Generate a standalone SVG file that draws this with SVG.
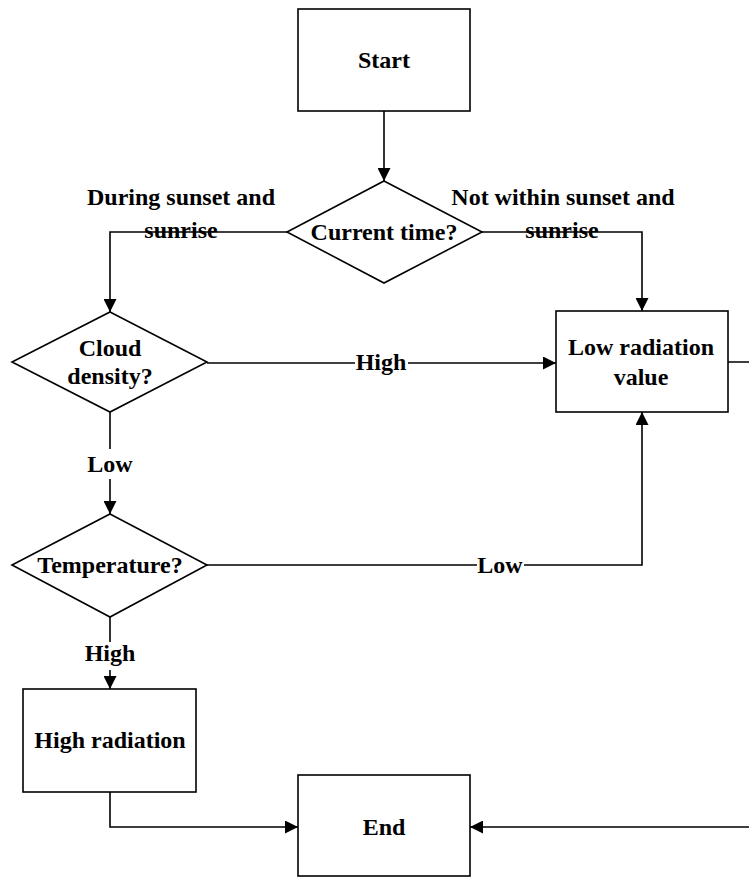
<svg xmlns="http://www.w3.org/2000/svg" width="749" height="877" viewBox="0 0 749 877">
<style>
.n{fill:#fff;stroke:#000;stroke-width:1.6}
.c{fill:none;stroke:#000;stroke-width:1.6}
text{font-family:"Liberation Serif","Times New Roman",serif;font-weight:bold;font-size:24px;fill:#000;text-anchor:middle}
.bg{fill:#fff}
</style>
<defs>
<marker id="arr" viewBox="0 0 13 13" refX="13" refY="6.5" markerWidth="13" markerHeight="13" markerUnits="userSpaceOnUse" orient="auto">
<path d="M0,0 L13,6.5 L0,13 z" fill="#000"/>
</marker>
</defs>
<rect width="749" height="877" fill="#fff"/>
<g id="connectors">
<path class="c" d="M384,111 V181" marker-end="url(#arr)"/>
<path class="c" d="M287,232 H110 V312" marker-end="url(#arr)"/>
<path class="c" d="M482,232 H642 V311" marker-end="url(#arr)"/>
<path class="c" d="M207,363 H556" marker-end="url(#arr)"/>
<path class="c" d="M110,405 V514" marker-end="url(#arr)"/>
<path class="c" d="M207,565 H642 V412" marker-end="url(#arr)"/>
<path class="c" d="M110,617 V689" marker-end="url(#arr)"/>
<path class="c" d="M110,792 V827 H298" marker-end="url(#arr)"/>
<path class="c" d="M728,362 H750 V827 H470" marker-end="url(#arr)"/>
<text x="181" y="205">During sunset and</text>
<text x="181" y="238">sunrise</text>
<text x="563" y="205">Not within sunset and</text>
<text x="562" y="238">sunrise</text>
<rect class="bg" x="355" y="352" width="53" height="22"/>
<text x="381" y="370">High</text>
<rect class="bg" x="86" y="449" width="47" height="30"/>
<text x="110" y="472">Low</text>
<rect class="bg" x="477" y="555" width="47" height="21"/>
<text x="500" y="573">Low</text>
<rect class="bg" x="82" y="642" width="56" height="28"/>
<text x="110" y="661">High</text>
</g>
<g id="start">
<rect class="n" x="298" y="9" width="172" height="102"/>
<text x="384" y="68">Start</text>
</g>
<g id="current-time">
<polygon class="n" points="384,181 482,232 384,283 287,232"/>
<text x="384" y="240">Current time?</text>
</g>
<g id="cloud-density">
<polygon class="n" points="110,312 207,362 110,412 12,362"/>
<text x="110" y="356">Cloud</text>
<text x="110" y="384">density?</text>
</g>
<g id="low-radiation">
<rect class="n" x="556" y="311" width="172" height="101"/>
<text x="641" y="355">Low radiation</text>
<text x="641" y="385">value</text>
</g>
<g id="temperature">
<polygon class="n" points="110,514 207,565 110,617 12,565"/>
<text x="110" y="573">Temperature?</text>
</g>
<g id="high-radiation">
<rect class="n" x="23" y="689" width="173" height="103"/>
<text x="110" y="748">High radiation</text>
</g>
<g id="end">
<rect class="n" x="298" y="775" width="172" height="101"/>
<text x="384" y="835">End</text>
</g>
</svg>
